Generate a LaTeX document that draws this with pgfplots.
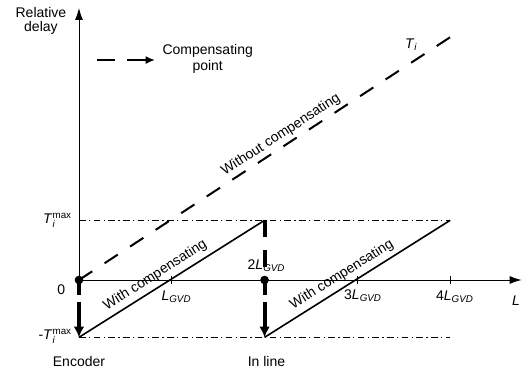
\documentclass[border=0pt]{standalone}
\usepackage{fontspec}
\setmainfont{Liberation Sans}
\usepackage{amsmath}
\usepackage{pgfplots}
\pgfplotsset{compat=1.18}
\usetikzlibrary{arrows.meta}

% distance labels and delay bounds
\newcommand{\LG}[1][]{#1\textit{L}$_{\textit{GVD}}$}
\newcommand{\Tmax}{\textit{T}$^{\textup{max}}_{\textit{i}}$}

\begin{document}
\begin{tikzpicture}[font=\fontsize{10.5}{11.5}\selectfont]
\begin{axis}[
  x=69.6pt, y=43.875pt,
  xmin=0, xmax=4.77, ymin=0, ymax=4.65,
  axis lines=left,
  axis line style={black, line width=0.7pt, -{Latex[length=9pt,width=6pt]}},
  xtick={1,3,4}, xticklabels={,,},
  ytick=\empty,
  tick align=center, major tick length=6pt,
  tick style={black, line width=0.6pt},
  clip=false,
]
% delay bounds +T_i^max and -T_i^max
\addplot[black, line width=0.6pt, dash pattern=on 5pt off 2.5pt on 1pt off 2.5pt]
  coordinates {(0,1.02) (4,1.02)};
\addplot[black, line width=0.6pt, dash pattern=on 5pt off 2.5pt on 1pt off 2.5pt]
  coordinates {(0,-0.98) (4,-0.98)};

% accumulated delay without compensation
\addplot[black, line width=1.5pt, dash pattern=on 11.9pt off 11pt]
  coordinates {(0,0) (4,4.15)}
  node[pos=0.56, sloped, above, inner sep=2.5pt] {Without compensating};

% delay with compensation at the encoder and in line
\addplot[black, line width=1.2pt]
  coordinates {(0,-0.98) (2,1.02)}
  node[pos=0.445, sloped, above] {With compensating};
\addplot[black, line width=1.2pt]
  coordinates {(2,-0.98) (4,1.02)}
  node[pos=0.45, sloped, above] {With compensating};

% compensating points
\addplot[black, line width=3pt, dash pattern=on 9.75pt off 5.25pt on 40pt,
  -{Latex[length=8pt,width=8pt]}]
  coordinates {(0,-0.034) (0,-0.98)};
\addplot[black, line width=3pt, dash pattern=on 12.75pt off 9.75pt]
  coordinates {(2,1.02) (2,0.17)};
\addplot[black, line width=3pt, dash pattern=on 9.75pt off 5.25pt on 40pt,
  -{Latex[length=8pt,width=8pt]}]
  coordinates {(2,-0.034) (2,-0.98)};
\addplot[black, only marks, mark=*, mark size=3pt]
  coordinates {(0,0) (2,0)};

% key
\addplot[black, line width=1.5pt, dash pattern=on 14pt off 9pt on 40pt,
  -{Latex[length=7pt,width=6pt]}]
  coordinates {(0.19,3.76) (0.82,3.76)};
\node[anchor=west, align=center] at (axis cs:0.85,3.78) {Compensating\\point};

% labels
\node[align=center, font=\fontsize{10.5}{10.5}\selectfont] at (axis cs:-0.41,4.43) {Relative\\delay};
\node at (axis cs:-0.19,-0.17) {0};
\node[anchor=east, inner sep=1pt] at (axis cs:-0.06,1.02) {\Tmax};
\node[anchor=east, inner sep=1pt] at (axis cs:-0.06,-0.96) {-\Tmax};
\node at (axis cs:0,-1.385) {Encoder};
\node at (axis cs:2.02,-1.385) {In line};
\node at (axis cs:2.02,0.24) {\LG[2]};
\node at (axis cs:1.05,-0.29) {\LG};
\node at (axis cs:3.06,-0.27) {\LG[3]};
\node at (axis cs:4.05,-0.29) {\LG[4]};
\node at (axis cs:4.71,-0.36) {\textit{L}};
\node at (axis cs:3.58,4.02) {\textit{T}$_{\textit{i}}$};

\path (axis cs:-0.851,-1.607) rectangle (axis cs:4.817,4.786);
\end{axis}
\end{tikzpicture}
\end{document}
